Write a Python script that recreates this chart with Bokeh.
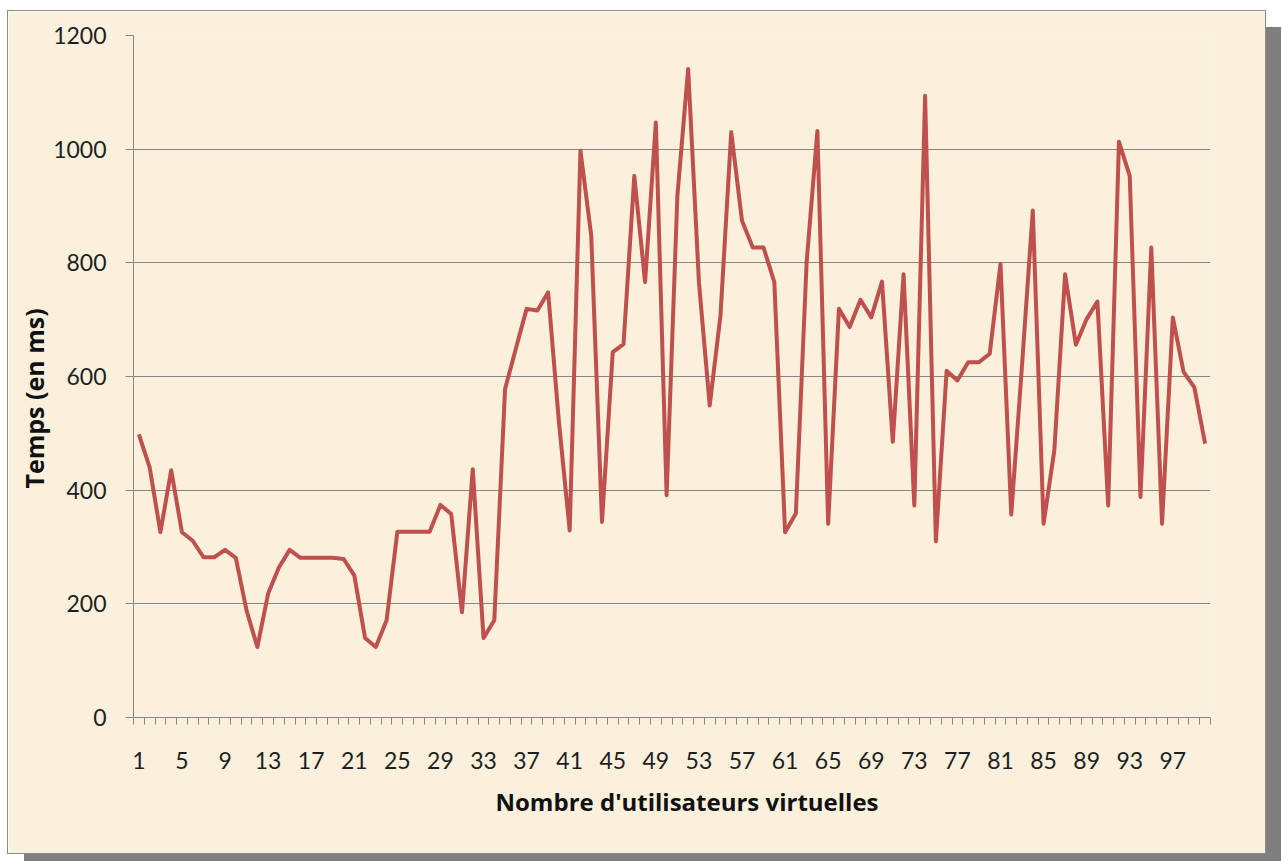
import numpy as np
from bokeh.plotting import figure
from bokeh.models import Range1d, FixedTicker, Title
from bokeh.embed import file_html
from bokeh.resources import INLINE

# ---- data ----
users = list(range(1, 101))
temps_ms = [498, 440, 326, 435, 326, 311, 282, 282, 295, 281,
            188, 124, 218, 264, 295, 281, 281, 281, 281, 279,
            250, 140, 124, 171, 327, 327, 327, 327, 374, 358,
            185, 437, 140, 171, 578, 649, 719, 716, 748, 520,
            329, 997, 848, 344, 643, 657, 953, 766, 1047, 391,
            918, 1141, 766, 549, 707, 1030, 874, 827, 827, 766,
            326, 359, 801, 1032, 341, 719, 687, 735, 704, 767,
            485, 780, 373, 1094, 310, 610, 593, 625, 625, 640,
            798, 357, 620, 892, 341, 470, 780, 656, 701, 732,
            373, 1013, 953, 388, 827, 341, 704, 608, 581, 482]
x_tick_values = [1, 5, 9, 13, 17, 21, 25, 29, 33, 37, 41, 45, 49, 53, 57,
                 61, 65, 69, 73, 77, 81, 85, 89, 93, 97]
x_tick_labels = ["1", "5", "9", "13", "17", "21", "25", "29", "33", "37", "41",
                 "45", "49", "53", "57", "61", "65", "69", "73", "77", "81",
                 "85", "89", "93", "97"]
y_tick_values = [0, 200, 400, 600, 800, 1000, 1200]
x_title = "Nombre d'utilisateurs virtuelles"
y_title = "Temps (en ms)"

BG = "#FAF0DC"
GRID = "#868686"
TXT = "#1f1f1f"
FONT = "Lato"
TFONT = "Open Sans"

p = figure(width=1257, height=842,
           x_range=Range1d(0.5, 100.5), y_range=Range1d(0, 1200),
           output_backend="svg", toolbar_location=None,
           min_border_left=125, min_border_right=55,
           min_border_top=24, min_border_bottom=136)
p.styles = {"margin": "11px 0px 0px 8px",
            "box-shadow": "0 0 0 1px #8a8a8a, 16px 16px 0 0 #7f7f7f"}
p.background_fill_color = BG
p.border_fill_color = BG
p.outline_line_color = None

p.line(users, temps_ms, line_color="#C0504D", line_width=4, line_join="round")

# x axis
bounds = list(np.arange(0.5, 101, 1.0))
p.xaxis.ticker = FixedTicker(ticks=x_tick_values, minor_ticks=bounds)
p.xaxis.major_label_overrides = {v: s for v, s in zip(x_tick_values, x_tick_labels)}
p.xaxis.major_tick_line_color = None
p.xaxis.major_tick_out = 0
p.xaxis.major_tick_in = 0
p.xaxis.minor_tick_in = 0
p.xaxis.minor_tick_out = 7
p.xaxis.minor_tick_line_color = GRID
p.xaxis.axis_line_color = GRID
p.xaxis.major_label_standoff = 27
p.xaxis.major_label_text_font = FONT
p.xaxis.major_label_text_font_size = "23px"
p.xaxis.major_label_text_color = TXT

# y axis
p.yaxis.ticker = FixedTicker(ticks=y_tick_values)
p.yaxis.major_tick_in = 0
p.yaxis.major_tick_out = 8
p.yaxis.minor_tick_line_color = None
p.yaxis.major_tick_line_color = GRID
p.yaxis.axis_line_color = GRID
p.yaxis.major_label_standoff = 19
p.yaxis.major_label_text_font = FONT
p.yaxis.major_label_text_font_size = "23px"
p.yaxis.major_label_text_color = TXT

p.xgrid.grid_line_color = None
p.ygrid.grid_line_color = GRID
p.ygrid.grid_line_width = 1
p.ygrid.ticker = FixedTicker(ticks=y_tick_values)

# axis titles
p.add_layout(Title(text=y_title, align="left", offset=229, standoff=0,
                   text_font=TFONT, text_font_style="bold",
                   text_font_size="25px", text_color="#111111"), "left")
p.add_layout(Title(text=x_title, align="left", offset=362, standoff=23,
                   text_font=TFONT, text_font_style="bold",
                   text_font_size="24px", text_color="#111111"), "below")

open("out.html", "w").write(file_html(p, INLINE))
